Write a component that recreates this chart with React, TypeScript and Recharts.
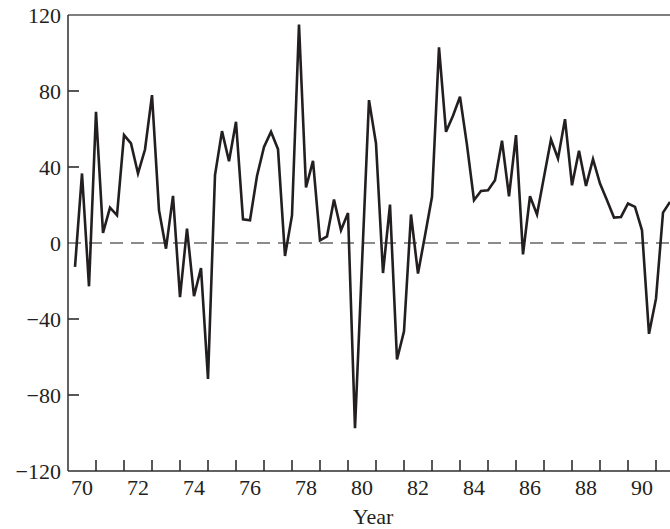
import React from 'react';
import { LineChart, Line, XAxis, YAxis, ReferenceLine } from 'recharts';

// quarterly values, 1970Q1 .. 1991Q2
const values = [
  -12.6, 36.6, -22.8, 69, 5.3, 18.6, 14.6, 56.8, 52.4, 36.6,
  49.2, 77.8, 17.2, -3, 24.8, -28.5, 7.6, -28, -13.2, -71.5,
  35.7, 58.9, 43, 63.8, 12.5, 12, 35.3, 50.6, 58.5, 49.4,
  -6.8, 14.5, 115, 29.2, 43.2, 1.4, 3.5, 22.9, 6.7, 15.8,
  -97.5, -11, 75.2, 52.4, -15.8, 20.2, -61.3, -46.5, 15, -16.1,
  4, 24.3, 103, 58.5, 67, 77, 51.5, 22.5, 27.4, 27.8,
  33, 53.8, 24.6, 56.8, -6, 24.6, 15, 34.8, 54.5, 44.5,
  65.2, 30.4, 48.5, 30, 44.1, 31.3, 22.5, 13.4, 13.7, 20.8,
  19, 6.7, -47.8, -29.3, 16, 21.6,
];

const startYear = 1970;
const endYear = 1991.5;
const yearTicks = [
  1970, 1971, 1972, 1973, 1974, 1975, 1976, 1977, 1978, 1979, 1980,
  1981, 1982, 1983, 1984, 1985, 1986, 1987, 1988, 1989, 1990, 1991,
];
const labelYears = [1970, 1972, 1974, 1976, 1978, 1980, 1982, 1984, 1986, 1988, 1990];
const yTicks = [-120, -80, -40, 0, 40, 80, 120];
const yMarks = [-80, -40, 40, 80];

const data = values.map((v, i) => ({ t: startYear + 0.25 * (i + 1), v }));

const W = 670;
const H = 529;
const LEFT = 68;
const TOP = 15;
const XAXIS_H = 58;
const PLOT_BOTTOM = H - XAXIS_H;
const PX_YEAR = (W - LEFT) / (endYear - startYear);
const TICK_LEN = 11;

const FONT = "'Liberation Serif', 'Times New Roman', serif";
const INK = '#231f20';
const AXIS = '#2e2e2e';

// tick mark inward + label in the middle of each even year
const XTick = (props: any) => {
  const { x, payload } = props;
  const yr = payload.value as number;
  return (
    <g>
      {yr !== startYear && (
        <path d={`M${x},${PLOT_BOTTOM}V${PLOT_BOTTOM - TICK_LEN}`} stroke={AXIS} strokeWidth={1.6} fill="none" />
      )}
      {labelYears.includes(yr) && (
        <text x={x + PX_YEAR / 2} y={PLOT_BOTTOM + 23.5} textAnchor="middle"
          fontFamily={FONT} fontSize={22} fill={INK}>
          {String(yr).slice(2)}
        </text>
      )}
    </g>
  );
};

const YTick = (props: any) => {
  const { y, payload } = props;
  const v = payload.value as number;
  const label = v < 0 ? '\u2212' + Math.abs(v) : String(v);
  return (
    <g>
      {yMarks.includes(v) && (
        <path d={`M${LEFT},${y}H${LEFT + TICK_LEN}`} stroke={AXIS} strokeWidth={1.6} fill="none" />
      )}
      <text x={LEFT - 7} y={y} dy="0.36em" textAnchor="end" fontFamily={FONT} fontSize={22} fill={INK}>
        {label}
      </text>
    </g>
  );
};

export default function App() {
  return (
    <div style={{ position: 'absolute', left: 0, top: 0, width: W, height: H, background: '#fff' }}>
      <LineChart width={W} height={H} data={data} margin={{ top: TOP, right: 0, bottom: 0, left: 0 }}>
        <XAxis
          dataKey="t"
          type="number"
          domain={[startYear, endYear]}
          ticks={yearTicks}
          interval={0}
          height={XAXIS_H}
          tickLine={false}
          tickSize={0}
          tickMargin={0}
          axisLine={{ stroke: AXIS, strokeWidth: 1.5 }}
          tick={<XTick />}
          label={{
            content: () => (
              <text x={LEFT + (W - LEFT) / 2 + 4} y={524} textAnchor="middle"
                fontFamily={FONT} fontSize={22} fill={INK}>
                Year
              </text>
            ),
          }}
        />
        <YAxis
          type="number"
          domain={[-120, 120]}
          ticks={yTicks}
          interval={0}
          width={LEFT}
          tickLine={false}
          tickSize={0}
          tickMargin={0}
          axisLine={{ stroke: AXIS, strokeWidth: 1.5 }}
          tick={<YTick />}
        />
        <ReferenceLine y={120} stroke="#555" strokeWidth={1.5} />
        <ReferenceLine y={0} stroke="#666" strokeWidth={1.5} strokeDasharray="13 8" />
        <Line
          type="linear"
          dataKey="v"
          stroke={INK}
          strokeWidth={2.6}
          dot={false}
          isAnimationActive={false}
        />
      </LineChart>
    </div>
  );
}
